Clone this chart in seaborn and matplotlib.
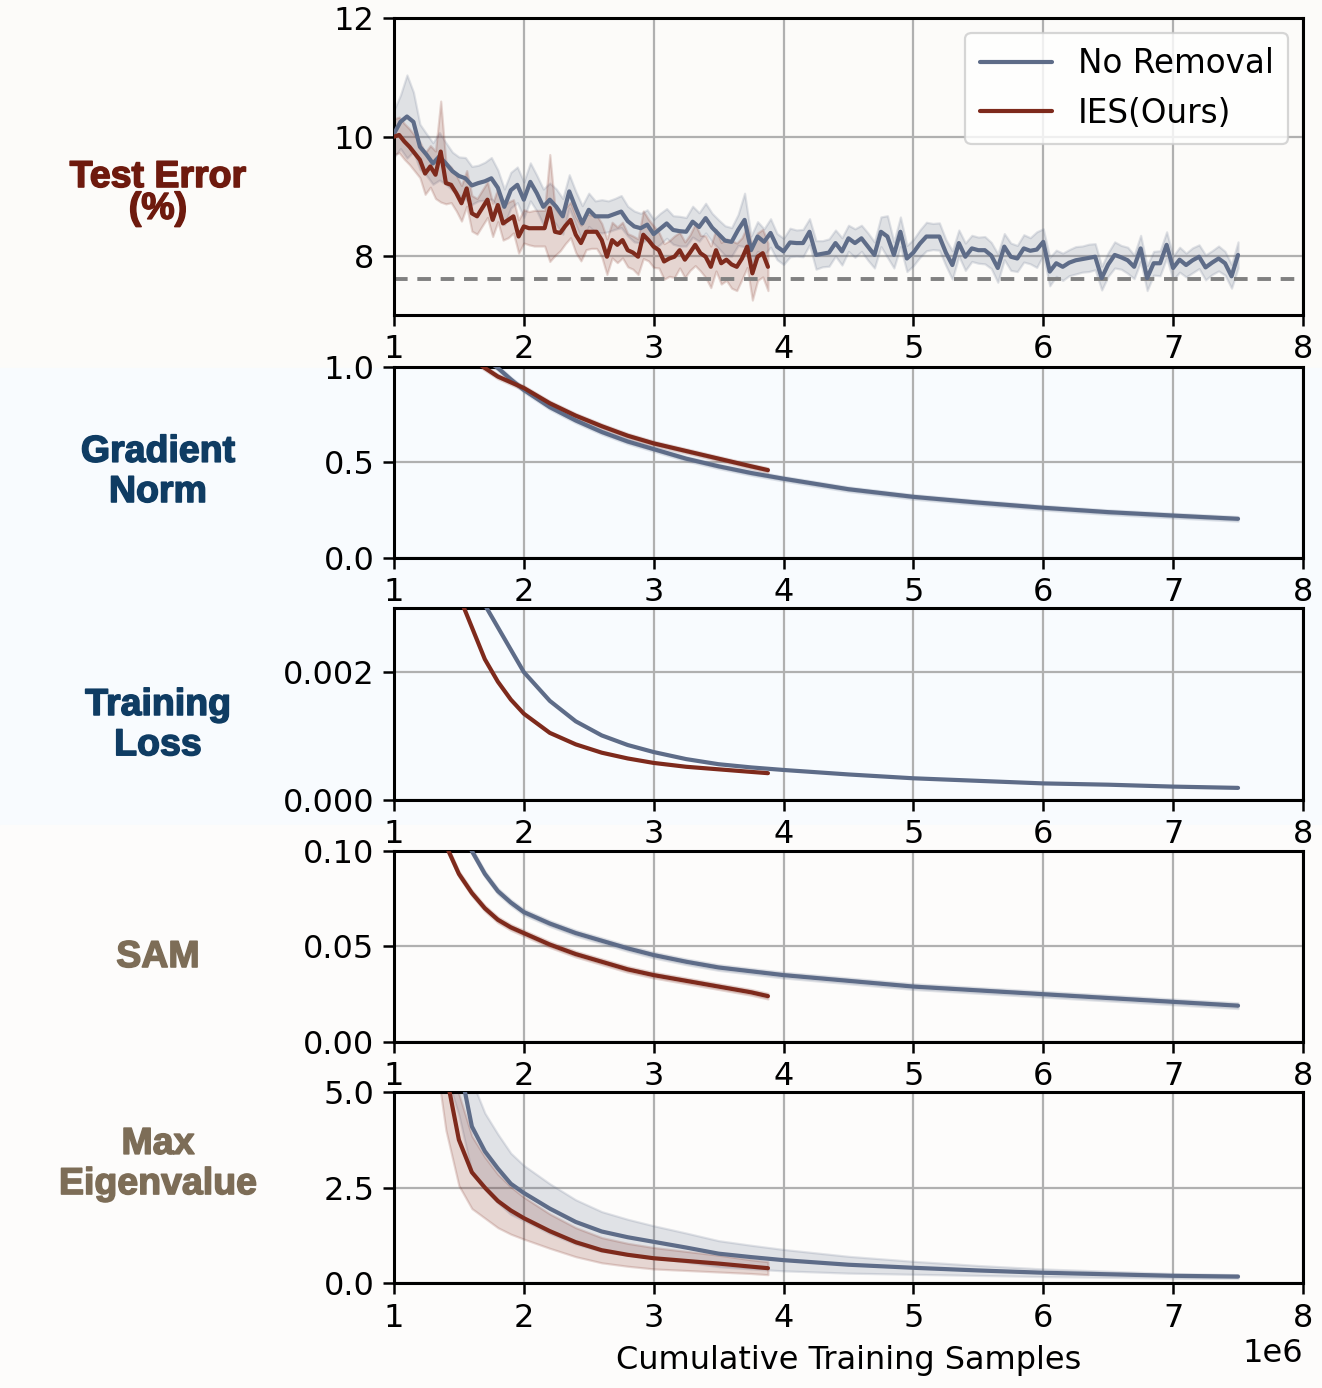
import numpy as np
import pandas as pd
import matplotlib
matplotlib.use("Agg")
import matplotlib.pyplot as plt
import matplotlib.patheffects as pe
import seaborn as sns
from matplotlib.patches import Rectangle
from matplotlib.lines import Line2D
from matplotlib.ticker import FormatStrFormatter

# ---------------- data (x in millions of cumulative training samples) ----------------
err_x_nr = np.round(np.arange(1.0, 7.5001, 0.05), 2)
err_nr = [10.05, 10.25, 10.34, 10.25, 9.83, 9.70, 9.55, 9.67, 9.55, 9.42,
          9.34, 9.30, 9.18, 9.22, 9.25, 9.30, 9.14, 8.82, 9.10, 9.19,
          8.94, 9.24, 9.05, 8.82, 8.94, 8.82, 8.66, 9.08, 8.80, 8.54,
          8.77, 8.66, 8.66, 8.66, 8.70, 8.74, 8.58, 8.49, 8.46, 8.52,
          8.36, 8.45, 8.54, 8.43, 8.41, 8.40, 8.57, 8.48, 8.63, 8.47,
          8.36, 8.25, 8.23, 8.43, 8.60, 8.09, 8.32, 8.23, 8.38, 8.15,
          8.07, 8.22, 8.21, 8.21, 8.40, 8.01, 8.03, 8.05, 8.21, 8.07,
          8.29, 8.21, 8.29, 8.15, 8.01, 8.40, 8.32, 8.01, 8.40, 7.95,
          8.05, 8.20, 8.32, 8.32, 8.32, 8.05, 7.84, 8.21, 7.98, 8.12,
          8.09, 8.09, 8.00, 7.79, 8.15, 7.98, 7.95, 8.12, 8.08, 8.10,
          8.23, 7.73, 7.87, 7.81, 7.88, 7.92, 7.94, 7.96, 7.98, 7.62,
          7.85, 8.01, 7.97, 7.92, 7.81, 8.12, 7.62, 7.87, 7.87, 8.18,
          7.79, 7.93, 7.84, 7.92, 7.98, 7.80, 7.88, 7.95, 7.87, 7.65,
          8.01]
err_nr_sd = [0.40, 0.45, 0.70, 0.50, 0.38, 0.35, 0.35, 0.40, 0.35, 0.32,
             0.32, 0.35, 0.32, 0.30, 0.32, 0.35, 0.30, 0.30, 0.30, 0.30,
             0.30, 0.32, 0.30, 0.30, 0.28, 0.30, 0.30, 0.28, 0.28, 0.30,
             0.28, 0.26, 0.28, 0.26, 0.26, 0.27, 0.25, 0.26, 0.25, 0.25,
             0.25, 0.26, 0.25, 0.24, 0.25, 0.24, 0.26, 0.24, 0.25, 0.24,
             0.24, 0.25, 0.24, 0.26, 0.45, 0.24, 0.25, 0.22, 0.24, 0.22,
             0.22, 0.24, 0.22, 0.23, 0.22, 0.24, 0.22, 0.23, 0.22, 0.23,
             0.22, 0.24, 0.22, 0.23, 0.22, 0.25, 0.35, 0.22, 0.25, 0.22,
             0.22, 0.23, 0.24, 0.22, 0.23, 0.22, 0.24, 0.22, 0.23, 0.22,
             0.22, 0.23, 0.22, 0.24, 0.22, 0.23, 0.22, 0.23, 0.22, 0.30,
             0.22, 0.24, 0.22, 0.23, 0.22, 0.23, 0.22, 0.23, 0.22, 0.20,
             0.20, 0.22, 0.20, 0.22, 0.20, 0.22, 0.21, 0.20, 0.21, 0.22,
             0.20, 0.21, 0.20, 0.21, 0.20, 0.21, 0.20, 0.21, 0.20, 0.20,
             0.22]

err_x_ies = np.round(np.linspace(1.0, 3.88, 73), 2)
err_ies = [10.00, 10.03, 9.92, 9.83, 9.72, 9.61, 9.38, 9.50, 9.36, 9.75,
           9.22, 9.19, 9.05, 8.88, 9.13, 8.71, 8.66, 8.80, 8.94, 8.60,
           8.85, 8.54, 8.60, 8.66, 8.32, 8.49, 8.46, 8.46, 8.46, 8.46,
           8.80, 8.40, 8.38, 8.50, 8.60, 8.35, 8.21, 8.40, 8.40, 8.40,
           8.26, 7.98, 8.26, 8.18, 8.26, 8.09, 8.05, 7.98, 8.35, 8.26,
           8.15, 8.09, 7.90, 7.95, 7.98, 8.09, 7.93, 8.05, 8.18, 8.04,
           7.98, 7.81, 8.09, 7.87, 7.93, 7.85, 7.81, 7.95, 8.15, 7.70,
           7.98, 8.04, 7.81]
err_ies_sd = [0.30, 0.30, 0.30, 0.30, 0.30, 0.30, 0.35, 0.35, 0.40, 0.85,
              0.35, 0.30, 0.30, 0.30, 0.30, 0.30, 0.30, 0.30, 0.30, 0.28,
              0.28, 0.28, 0.30, 0.28, 0.28, 0.28, 0.28, 0.30, 0.30, 0.30,
              0.90, 0.40, 0.30, 0.30, 0.30, 0.30, 0.30, 0.30, 0.28, 0.28,
              0.28, 0.30, 0.30, 0.30, 0.30, 0.28, 0.28, 0.30, 0.40, 0.35,
              0.35, 0.30, 0.30, 0.30, 0.35, 0.30, 0.30, 0.30, 0.35, 0.30,
              0.35, 0.35, 0.35, 0.35, 0.35, 0.40, 0.40, 0.35, 0.35, 0.45,
              0.40, 0.40, 0.40]
best_err = 7.6

x_nr = [1.4, 1.5, 1.6, 1.7, 1.8, 1.9, 2.0, 2.2, 2.4, 2.6, 2.8, 3.0,
        3.25, 3.5, 3.75, 4.0, 4.5, 5.0, 5.5, 6.0, 6.5, 7.0, 7.5]
x_ies = [1.3, 1.4, 1.5, 1.6, 1.7, 1.8, 1.9, 2.0, 2.2, 2.4, 2.6, 2.8,
         3.0, 3.25, 3.5, 3.75, 3.88]

gn_nr = [1.25, 1.17, 1.10, 1.04, 0.995, 0.935, 0.88, 0.79, 0.72, 0.66, 0.61, 0.57,
         0.52, 0.48, 0.445, 0.415, 0.36, 0.32, 0.29, 0.263, 0.24, 0.222, 0.205]
gn_ies = [1.25, 1.17, 1.10, 1.04, 0.995, 0.95, 0.92, 0.89, 0.81, 0.745, 0.69, 0.64,
          0.60, 0.56, 0.52, 0.48, 0.46]
gn_sd = 0.012

loss_nr = [0.0048, 0.0041, 0.0035, 0.00305, 0.0027, 0.00235, 0.0020, 0.00155,
           0.00123, 0.00101, 0.00086, 0.00075, 0.00064, 0.00056, 0.00051, 0.00047,
           0.00040, 0.00034, 0.00030, 0.00026, 0.00024, 0.00021, 0.00019]
loss_ies = [0.0045, 0.0038, 0.0032, 0.0027, 0.0022, 0.00185, 0.00157, 0.00135,
            0.00105, 0.00087, 0.00074, 0.00065, 0.00058, 0.00052, 0.00048, 0.00044,
            0.00042]

sam_nr = [0.125, 0.112, 0.100, 0.088, 0.079, 0.073, 0.068, 0.062, 0.057, 0.053, 0.049,
          0.0455, 0.042, 0.039, 0.037, 0.035, 0.032, 0.029, 0.027, 0.025, 0.023, 0.021,
          0.019]
sam_ies = [0.120, 0.103, 0.088, 0.078, 0.070, 0.064, 0.060, 0.057, 0.051, 0.046, 0.042,
           0.038, 0.035, 0.032, 0.029, 0.026, 0.024]
sam_sd = 0.0015

eig_nr = [7.0, 5.8, 4.1, 3.45, 3.0, 2.6, 2.36, 1.95, 1.6, 1.35, 1.2, 1.08,
          0.93, 0.77, 0.68, 0.60, 0.48, 0.40, 0.33, 0.27, 0.23, 0.19, 0.17]
eig_nr_sd = [1.5, 1.4, 1.2, 1.0, 0.9, 0.8, 0.72, 0.65, 0.58, 0.52, 0.47, 0.42,
             0.38, 0.34, 0.31, 0.28, 0.22, 0.17, 0.13, 0.10, 0.08, 0.06, 0.05]
eig_ies = [8.0, 5.5, 3.75, 2.9, 2.5, 2.15, 1.9, 1.70, 1.36, 1.07, 0.86, 0.74,
           0.65, 0.58, 0.51, 0.43, 0.39]
eig_ies_sd = [1.6, 1.5, 1.2, 0.95, 0.8, 0.7, 0.62, 0.55, 0.45, 0.38, 0.33, 0.30,
              0.28, 0.25, 0.22, 0.18, 0.17]

methods = ["No Removal", "IES(Ours)"]
colors = {"No Removal": "#5e6c88", "IES(Ours)": "#7e2a1c"}

# ---------------- style ----------------
sns.set_style("ticks")
plt.rcParams["font.family"] = ["DejaVu Sans"]
plt.rcParams["axes.linewidth"] = 2.0
plt.rcParams["text.color"] = "black"
plt.rcParams["axes.labelcolor"] = "black"
plt.rcParams["xtick.color"] = "black"
plt.rcParams["ytick.color"] = "black"

fig = plt.figure(figsize=(13.22, 13.88), dpi=100)

# background bands behind rows
fig.patches.append(Rectangle((0, 0.735), 1, 0.265, transform=fig.transFigure,
                             color="#fcfbf9", zorder=-10))
fig.patches.append(Rectangle((0, 0.4056), 1, 0.3294, transform=fig.transFigure,
                             color="#f8fbfe", zorder=-10))
fig.patches.append(Rectangle((0, 0), 1, 0.4056, transform=fig.transFigure,
                             color="#fdfcfb", zorder=-10))

left, width = 0.298, 0.6876
boxes = [(0.7731, 0.2140), (0.5980, 0.1376), (0.4236, 0.1383),
         (0.2493, 0.1376), (0.0756, 0.1376)]
axes = [fig.add_axes([left, b, width, h]) for b, h in boxes]


def draw(ax, xs, ys, sds):
    for m in methods:
        x = np.asarray(xs[m]) * 1e6
        y = np.asarray(ys[m])
        if sds[m] is not None:
            sd = np.asarray(sds[m])
            ax.fill_between(x, y - sd, y + sd, color=colors[m], alpha=0.18,
                            linewidth=1.6, zorder=1)
        df = pd.DataFrame({"samples": x, "value": y, "method": m})
        sns.lineplot(data=df, x="samples", y="value", color=colors[m],
                     linewidth=3.0, errorbar=None, ax=ax, zorder=3)


draw(axes[0], {"No Removal": err_x_nr, "IES(Ours)": err_x_ies},
     {"No Removal": err_nr, "IES(Ours)": err_ies},
     {"No Removal": err_nr_sd, "IES(Ours)": err_ies_sd})
axes[0].axhline(best_err, color="#808080", linestyle=(0, (3.5, 2.5)), linewidth=2.8, zorder=2)

draw(axes[1], {"No Removal": x_nr, "IES(Ours)": x_ies},
     {"No Removal": gn_nr, "IES(Ours)": gn_ies},
     {"No Removal": [gn_sd] * len(x_nr), "IES(Ours)": [gn_sd] * len(x_ies)})
draw(axes[2], {"No Removal": x_nr, "IES(Ours)": x_ies},
     {"No Removal": loss_nr, "IES(Ours)": loss_ies},
     {"No Removal": None, "IES(Ours)": None})
draw(axes[3], {"No Removal": x_nr, "IES(Ours)": x_ies},
     {"No Removal": sam_nr, "IES(Ours)": sam_ies},
     {"No Removal": [sam_sd] * len(x_nr), "IES(Ours)": [sam_sd] * len(x_ies)})
draw(axes[4], {"No Removal": x_nr, "IES(Ours)": x_ies},
     {"No Removal": eig_nr, "IES(Ours)": eig_ies},
     {"No Removal": eig_nr_sd, "IES(Ours)": eig_ies_sd})

ylims = [(7, 12), (0, 1.0), (0, 0.003), (0, 0.10), (0, 5.0)]
yticks = [[8, 10, 12], [0, 0.5, 1.0], [0, 0.002], [0, 0.05, 0.10], [0, 2.5, 5.0]]
yfmts = ["%d", "%.1f", "%.3f", "%.2f", "%.1f"]

for i, ax in enumerate(axes):
    ax.set_facecolor("none")
    ax.set_xlim(1e6, 8e6)
    ax.set_xticks(np.arange(1, 9) * 1e6)
    ax.set_ylim(*ylims[i])
    ax.set_yticks(yticks[i])
    ax.yaxis.set_major_formatter(FormatStrFormatter(yfmts[i]))
    ax.grid(True, color="#b0b0b0", linewidth=1.6)
    ax.set_axisbelow(True)
    ax.tick_params(labelsize=23, length=8, width=1.8, pad=6, direction="out",
                   colors="black")
    ax.set_ylabel("")
    ax.set_xlabel("")
    for s in ax.spines.values():
        s.set_linewidth(2.2)
        s.set_color("black")
    if i < 4:
        ax.xaxis.get_offset_text().set_visible(False)
    else:
        ax.xaxis.get_offset_text().set_fontsize(23)

axes[4].set_xlabel("Cumulative Training Samples", fontsize=23, labelpad=8)

handles = [Line2D([], [], color=colors[m], linewidth=3.0) for m in methods]
leg = axes[0].legend(handles, methods, loc="upper right", fontsize=23.5,
                     frameon=True, fancybox=True, framealpha=0.8,
                     handlelength=2.2, borderaxespad=0.45, borderpad=0.45)
leg.get_frame().set_edgecolor("#cccccc")
leg.get_frame().set_linewidth(1.6)

# row labels (heavy look: bold face plus a thin outline of the same colour)
row_labels = [("Test Error\n(%)", 0.861, "#6e1a0e", 0.85),
              ("Gradient\nNorm", 0.660, "#0f3c63", 1.15),
              ("Training\nLoss", 0.4776, "#0f3c63", 1.15),
              ("SAM", 0.3105, "#7d6d57", 1.15),
              ("Max\nEigenvalue", 0.1614, "#7d6d57", 1.15)]
for txt, y, c, ls in row_labels:
    fig.text(0.1195, y, txt, ha="center", va="center", fontsize=27,
             fontweight="bold", family=["Liberation Sans", "DejaVu Sans"],
             color=c, linespacing=ls,
             path_effects=[pe.withStroke(linewidth=1.1, foreground=c)])

fig.savefig("out.png", dpi=100)
